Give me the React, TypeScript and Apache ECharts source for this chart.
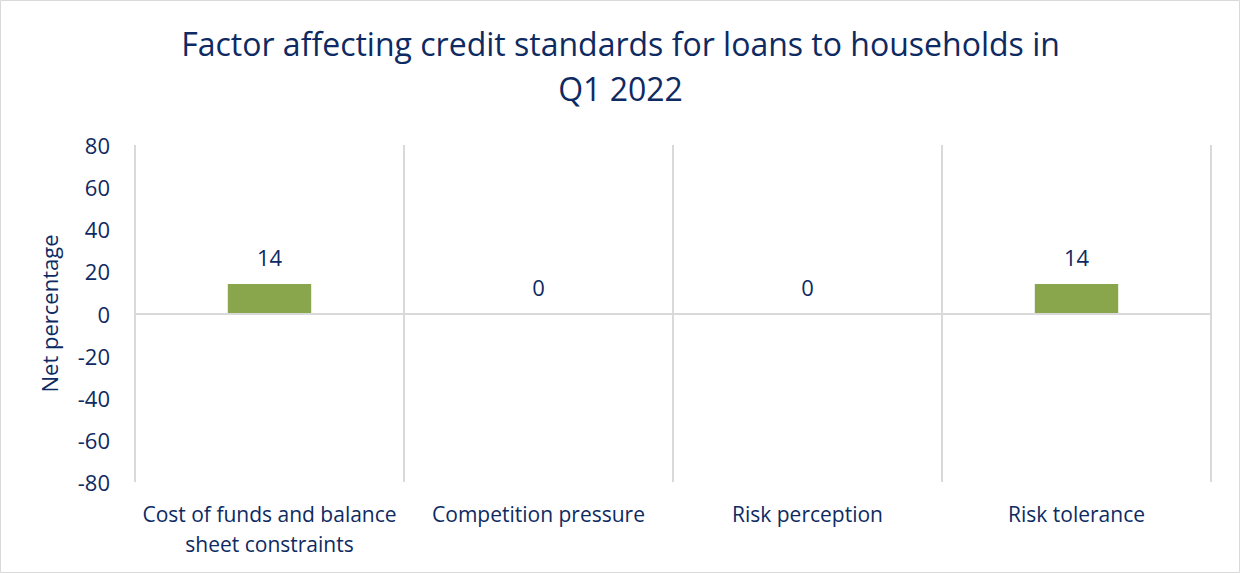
import React, { useEffect, useRef } from "react";
import * as echarts from "echarts";

const categories = [
  "Cost of funds and balance\nsheet constraints",
  "Competition pressure",
  "Risk perception",
  "Risk tolerance",
];
const values = [14, 0, 0, 14];
const titleText = "Factor affecting credit standards for loans to households in\nQ1 2022";
const yAxisName = "Net percentage";

const NAVY = "#0E2A62";
const FONT = "'Open Sans', Lato, sans-serif";

export default function App() {
  const ref = useRef<HTMLDivElement>(null);
  useEffect(() => {
    if (!ref.current) return;
    const chart = echarts.init(ref.current, undefined, { renderer: "svg" });
    chart.setOption({
      animation: false,
      backgroundColor: "#fff",
      textStyle: { fontFamily: FONT },
      title: {
        text: titleText,
        left: "center",
        top: 16,
        textStyle: {
          color: NAVY,
          fontSize: 32,
          fontWeight: "normal",
          lineHeight: 45,
          fontFamily: FONT,
        },
      },
      grid: { left: 135, right: 30, top: 145, bottom: 91, containLabel: false },
      xAxis: {
        type: "category",
        data: categories,
        boundaryGap: true,
        axisLine: { show: false },
        axisTick: { show: false },
        splitLine: { show: true, lineStyle: { color: "#D9D9D9", width: 2 } },
        axisLabel: {
          color: NAVY,
          fontSize: 21,
          lineHeight: 30,
          margin: 17,
          interval: 0,
          fontFamily: FONT,
        },
      },
      yAxis: {
        type: "value",
        min: -80,
        max: 80,
        interval: 20,
        name: yAxisName,
        nameLocation: "middle",
        nameRotate: 90,
        nameGap: 75,
        nameTextStyle: { color: NAVY, fontSize: 22, fontFamily: FONT },
        axisLine: { show: false },
        axisTick: { show: false },
        splitLine: { show: false },
        axisLabel: { color: NAVY, fontSize: 22, margin: 25, fontFamily: FONT },
      },
      series: [
        {
          type: "bar",
          data: values,
          barWidth: "31%",
          itemStyle: { color: "#8AA64C" },
          label: {
            show: true,
            position: "top",
            distance: 16,
            color: NAVY,
            fontSize: 22,
            fontFamily: FONT,
          },
          markLine: {
            silent: true,
            symbol: "none",
            label: { show: false },
            lineStyle: { color: "#D9D9D9", width: 2, type: "solid" },
            data: [{ yAxis: 0 }],
          },
        },
      ],
      graphic: [
        {
          type: "rect",
          shape: { x: 0.5, y: 0.5, width: 1239, height: 572 },
          style: { fill: "none", stroke: "#D9D9D9", lineWidth: 1 },
          silent: true,
        },
      ],
    });
    return () => chart.dispose();
  }, []);
  return (
    <div
      ref={ref}
      style={{ position: "fixed", left: 0, top: 0, width: 1241, height: 573 }}
    />
  );
}
